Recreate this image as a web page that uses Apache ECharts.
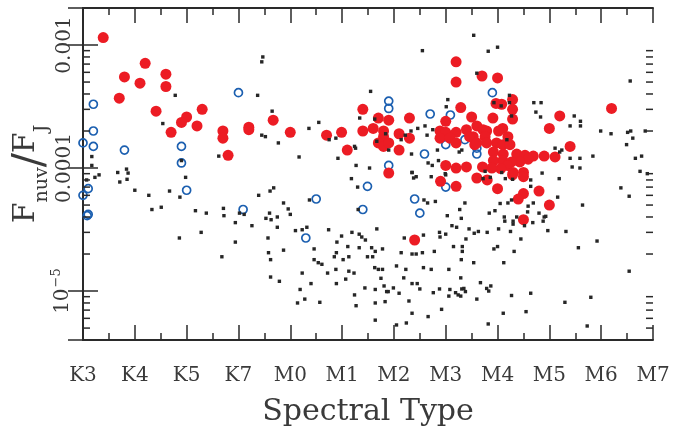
<!DOCTYPE html>
<html>
<head>
<meta charset="utf-8">
<script src="https://cdn.jsdelivr.net/npm/echarts@6/dist/echarts.min.js"></script>
<style>
  html, body { margin: 0; padding: 0; background: #fff; }
</style>
</head>
<body>
<div id="myChart" style="width: 685px;height: 429px"></div>
<script>
// spectral type index: 0 = K3 ... 11 = M7
let spectralLabels = ['K3', 'K4', 'K5', 'K7', 'M0', 'M1', 'M2', 'M3', 'M4', 'M5', 'M6', 'M7']

// y ticks (log axis)
let yMajorTicks = [1e-5, 1e-4, 1e-3]
let yMajorLabels = ['10{sup|−5}', '0.0001', '0.001']
let yMinorTicks = [5e-6, 6e-6, 7e-6, 8e-6, 9e-6,
  2e-5, 3e-5, 4e-5, 5e-5, 6e-5, 7e-5, 8e-5, 9e-5,
  2e-4, 3e-4, 4e-4, 5e-4, 6e-4, 7e-4, 8e-4, 9e-4]

// small black squares [spectral type, Fnuv/FJ]
let blackPoints = [
  [0.17,1.24e-4],[0.17,1.05e-4],[0.67,9.2e-5],[0.84,9.8e-5],[0.87,9.1e-5],[0.31,8.8e-5],[0.07,8e-5],[0.23,8.4e-5],
  [0.71,7.7e-5],[0.85,8.1e-5],[1.0,6.6e-5],[1.27,6e-5],[1.33,4.6e-5],[1.51,4.8e-5],[1.67,6.5e-5],[1.87,5.8e-5],
  [1.98,8.4e-5],[1.86,2.7e-5],[2.17,4.5e-5],[2.38,4.3e-5],[2.28,3e-5],[2.68,1.9e-5],[2.71,4.7e-5],[2.72,4.1e-5],
  [2.94,3.6e-5],[2.94,2.5e-5],[3.02,4.3e-5],[3.11,4.2e-5],[3.26,3.4e-5],[3.39,6e-5],[3.61,6.5e-5],[3.68,6.9e-5],
  [3.53,3.9e-5],[3.60,4.3e-5],[3.63,3.8e-5],[3.57,2.7e-5],[3.58,2.05e-5],[3.62,1.8e-5],[3.62,1.3e-5],[3.75,4e-5],
  [3.75,3.3e-5],[3.79,1.2e-5],[3.87,5.2e-5],[3.96,4.65e-5],[4.00,4.2e-5],[4.10,3.1e-5],[3.87,2.15e-5],[4.23,3.15e-5],
  [4.32,3.3e-5],[4.23,1.4e-5],[4.19,1.03e-5],[4.14,8e-6],[4.28,8.6e-6],[4.57,8.1e-6],[4.40,1.15e-5],[4.46,2.2e-5],
  [4.46,1.8e-5],[4.54,1.7e-5],[4.61,1.65e-5],[4.37,5.5e-5],[4.74,3.15e-5],[4.72,1.4e-5],[4.89,1.15e-5],[4.88,1.5e-5],
  [4.85,1.9e-5],[4.89,2.05e-5],[4.90,2.5e-5],[4.99,2.8e-5],[5.02,1.8e-5],[5.07,1.25e-5],[5.11,2.3e-5],[5.13,1.45e-5],
  [5.13,1.9e-5],[5.24,9.3e-6],[5.27,7.6e-6],[5.19,3e-5],[5.30,7e-5],[5.31,4.6e-5],[5.18,8.2e-5],[5.33,2.9e-5],
  [5.38,2.75e-5],[5.45,2.6e-5],[5.67,3.2e-5],[5.33,2.25e-5],[5.57,2.25e-5],[5.64,2.1e-5],[5.78,2.2e-5],[5.49,1.9e-5],
  [5.59,1.9e-5],[5.23,1.4e-5],[5.44,1.06e-5],[5.63,1.55e-5],[5.70,1.5e-5],[5.78,1.5e-5],[5.75,1.27e-5],[5.81,1.1e-5],
  [5.64,1.03e-5],[5.86,9.9e-6],[5.89,9.9e-6],[5.99,1.06e-5],[6.10,9.6e-6],[5.83,8.2e-6],[5.64,8e-6],[5.64,5.8e-6],
  [6.05,1.6e-5],[6.23,1.5e-5],[6.19,1.28e-5],[6.35,1.15e-5],[6.45,1.15e-5],[6.50,1.04e-5],[6.29,8.3e-6],[6.35,6.6e-6],
  [6.05,5.3e-6],[6.24,5.5e-6],[6.66,6.2e-6],[6.92,7.1e-6],[6.57,1.55e-5],[6.72,1.5e-5],[7.06,1.5e-5],[6.76,9.7e-6],
  [6.88,1.04e-5],[7.08,1.03e-5],[7.06,9.1e-6],[7.19,9.7e-6],[7.24,9.3e-6],[7.29,9.1e-6],[7.31,1.04e-5],[7.29,1.28e-5],
  [6.14,2.05e-5],[6.35,2e-5],[6.43,2e-5],[6.55,2.05e-5],[6.78,2.1e-5],[6.20,2.7e-5],[6.57,2.85e-5],[6.88,3e-5],
  [6.89,2.75e-5],[7.00,2.9e-5],[7.15,2.3e-5],[7.32,2.3e-5],[7.32,2.1e-5],[7.30,1.8e-5],[7.03,4.1e-5],[7.12,3.4e-5],
  [7.21,3.3e-5],[7.27,4.6e-5],[7.30,3.9e-5],[6.58,5.5e-5],[6.65,5.2e-5],[6.80,5.35e-5],[6.72,8.5e-5],[6.43,8.5e-5],
  [6.35,9.2e-5],[6.38,8.3e-5],[7.00,8.8e-5],
  [3.47,8e-4],[3.45,7.3e-4],[3.37,3.9e-4],[1.78,3.9e-4],[1.54,2.3e-4],[3.65,2.9e-4],[3.45,1.85e-4],[3.52,1.8e-4],
  [2.62,1.25e-4],[1.90,1.15e-4],[6.55,9e-4],[5.55,4.2e-4],[4.55,2.35e-4],[4.36,2.1e-4],[3.77,1.6e-4],[4.17,1.23e-4],
  [4.92,1.2e-4],[4.75,1.7e-4],[4.88,1.75e-4],[5.24,1.5e-4],[5.26,1.45e-4],[5.34,2.55e-4],[5.63,2.5e-4],[5.27,1.05e-4],
  [5.53,1e-4],[5.67,1.65e-4],[5.84,1.9e-4],[5.90,1.4e-4],[6.14,1.7e-4],[6.22,1.85e-4],[6.33,2e-4],[6.46,2.1e-4],
  [6.60,2.2e-4],[6.75,2.05e-4],[6.64,1.85e-4],[6.34,1.3e-4],[6.66,1.1e-4],[6.74,1.05e-4],[6.86,1.15e-4],[6.35,9.2e-5],
  [6.84,1.4e-4],[7.01,3.15e-4],[7.04,3.6e-4],[7.26,1.35e-4],[7.31,1.4e-4],[6.99,9e-5],[7.54,1.2e-3],[7.82,8.9e-4],
  [8.00,9.6e-4],[7.60,5.9e-4],[8.23,3.9e-4],[8.23,3.4e-4],[7.93,3.4e-4],[8.07,3.2e-4],[8.70,3.4e-4],[8.84,3.4e-4],
  [8.74,2.85e-4],[8.83,2.6e-4],[8.27,2.65e-4],[9.48,2.65e-4],[9.60,2.4e-4],[9.60,2.2e-4],[9.40,2.2e-4],[9.99,2e-4],
  [10.19,1.9e-4],[10.56,5.1e-4],[10.51,1.95e-4],[10.57,2e-4],[10.85,2e-4],[10.61,1.75e-4],[10.49,1.55e-4],[10.78,1.25e-4],
  [10.66,1.2e-4],[9.84,1.25e-4],[9.11,1.45e-4],[9.20,1.35e-4],[9.24,1.4e-4],[9.40,1.2e-4],[9.59,1.2e-4],[9.59,1e-4],
  [9.44,1.02e-4],[8.86,9.1e-5],[10.75,9.4e-5],[10.89,9e-5],[8.18,1.7e-4],[7.76,9.4e-5],[8.08,9.2e-5],
  [9.19,8.2e-5],[8.15,8.2e-5],[8.29,8.1e-5],[7.86,8.4e-5],[8.64,8e-5],[8.64,7.1e-5],[7.72,8.2e-5],[7.37,5.2e-5],
  [8.05,5.15e-5],[8.20,5.2e-5],[8.27,5.5e-5],[8.69,5.2e-5],[8.59,4.9e-5],[8.58,4.4e-5],[7.84,4.3e-5],[7.95,4.5e-5],
  [9.16,5.8e-5],[9.64,5e-5],[10.38,6.9e-5],[10.54,5.9e-5],[8.80,4.3e-5],[8.90,4e-5],[8.93,4.05e-5],[8.88,3.7e-5],
  [8.68,3.6e-5],[8.30,3.7e-5],[8.30,3.5e-5],[8.37,4e-5],[8.13,4e-5],[8.14,3.7e-5],[8.52,3.4e-5],[8.02,3.2e-5],
  [8.25,3.05e-5],[8.97,3.1e-5],[9.32,3.05e-5],[7.80,3e-5],[7.63,3.05e-5],[7.55,2.95e-5],[7.45,3.2e-5],[7.39,2.65e-5],
  [8.45,2.65e-5],[7.93,2.2e-5],[8.00,2.3e-5],[8.32,2.1e-5],[9.92,2.55e-5],[9.56,2.25e-5],[7.54,1.7e-5],[8.12,1.7e-5],
  [10.54,1.45e-5],[7.67,1.17e-5],[7.79,1.05e-5],[7.87,1.1e-5],[7.83,1e-5],[7.35,1.05e-5],[7.38,9.9e-6],[7.60,8.6e-6],
  [8.27,9.2e-6],[8.64,9.6e-6],[8.11,6.6e-6],[8.55,6.8e-6],[7.82,5.4e-6],[9.30,8.1e-6],[9.80,8.9e-6],[9.73,5.2e-6]
]

// red filled circles
let redPoints = [
  [0.39,1.15e-3],[1.20,7.1e-4],[0.80,5.5e-4],[1.10,4.9e-4],[1.60,5.8e-4],[1.60,4.6e-4],[0.70,3.7e-4],[1.41,2.9e-4],
  [2.00,2.6e-4],[1.90,2.35e-4],[2.30,3e-4],[2.20,2.2e-4],[1.70,1.95e-4],[2.70,2e-4],[2.70,1.75e-4],[2.80,1.27e-4],
  [3.20,2.15e-4],[3.20,2.05e-4],[3.67,2.45e-4],[4.00,1.95e-4],[4.70,1.85e-4],[4.99,1.95e-4],[5.10,1.4e-4],[5.40,3e-4],
  [5.40,2e-4],[5.60,2.1e-4],[5.70,2.55e-4],[5.90,2.45e-4],[5.80,2e-4],[5.80,1.8e-4],[5.70,1.6e-4],[5.80,1.5e-4],
  [5.90,1.6e-4],[6.10,1.9e-4],[6.10,1.4e-4],[6.30,2.55e-4],[6.30,1.75e-4],[5.90,9.1e-5],[7.20,7.3e-4],[7.20,5e-4],
  [7.29,3.1e-4],[7.00,2.4e-4],[6.89,2e-4],[7.00,1.95e-4],[7.20,1.95e-4],[6.89,1.75e-4],[7.08,1.75e-4],[7.20,1.6e-4],
  [7.00,1.05e-4],[7.20,1e-4],[7.70,5.6e-4],[8.00,5.4e-4],[8.29,3.6e-4],[8.08,3.3e-4],[7.97,3.35e-4],[8.29,3e-4],
  [8.29,2.5e-4],[7.50,2.6e-4],[7.91,2.55e-4],[9.20,2.65e-4],[10.20,3.05e-4],[9.00,2.1e-4],[8.10,2.1e-4],[8.02,2e-4],
  [7.60,2.2e-4],[7.72,2.05e-4],[7.79,2e-4],[7.40,2.05e-4],[7.53,1.8e-4],[7.76,1.8e-4],[7.56,1.55e-4],[8.20,1.8e-4],
  [7.98,1.6e-4],[8.10,1.55e-4],[8.24,1.55e-4],[9.40,1.5e-4],[7.92,1.35e-4],[8.11,1.3e-4],[8.37,1.3e-4],[8.53,1.27e-4],
  [8.69,1.25e-4],[8.90,1.25e-4],[9.11,1.23e-4],[8.59,1.18e-4],[8.43,1.12e-4],[8.27,1.12e-4],[8.10,1.15e-4],[7.92,1.15e-4],
  [8.19,1.05e-4],[8.06,9.9e-5],[7.89,1e-4],[7.71,1.02e-4],[7.40,1.02e-4],[8.30,9.2e-5],[8.50,9.2e-5],[7.60,8.3e-5],
  [7.80,8e-5],[8.00,6.8e-5],[8.29,8.8e-5],[8.50,8.5e-5],[8.50,6.2e-5],[8.80,6.5e-5],[8.40,5.6e-5],[9.00,5e-5],
  [8.50,3.8e-5],[6.40,2.6e-5],[6.90,7.8e-5],[7.20,7.1e-5],[7.46,1.8e-4],[7.60,1.6e-4],[7.79,1.6e-4]
]

// blue open circles
let bluePoints = [
  [0.20,3.3e-4],[0.20,2e-4],[0.00,1.6e-4],[0.20,1.5e-4],[0.80,1.4e-4],[3.00,4.1e-4],[1.90,1.5e-4],[1.90,1.1e-4],
  [0.10,6.8e-5],[0.00,6e-5],[0.10,4.2e-5],[0.08,4.1e-5],[2.00,6.6e-5],[3.09,4.6e-5],[4.50,5.6e-5],[4.30,2.7e-5],
  [5.49,7.1e-5],[5.40,4.6e-5],[6.40,5.6e-5],[6.50,4.3e-5],[7.00,7e-5],[5.90,3.5e-4],[5.90,3.05e-4],[6.70,2.75e-4],
  [7.09,2.7e-4],[5.90,1.05e-4],[6.59,1.3e-4],[7.00,1.55e-4],[7.90,4.1e-4],[7.37,1.7e-4],[7.60,1.45e-4],[7.60,1.3e-4]
]

let axisColor = '#2a2a2a'
let textColor = '#3a3a3a'
let fontName = 'DejaVu Serif'

function yLabel(value) {
  for (let i = 0; i < yMajorTicks.length; i++) {
    if (Math.abs(Math.log10(value) - Math.log10(yMajorTicks[i])) < 0.01) {
      return yMajorLabels[i]
    }
  }
  return ''
}

let xAxisBase = {
  type: 'value',
  min: 0,
  max: 11,
  interval: 1,
  axisLine: { show: true, lineStyle: { color: axisColor, width: 2 } },
  axisTick: { show: true, inside: true, length: 15, lineStyle: { color: axisColor, width: 1.5 } },
  minorTick: { show: true, splitNumber: 2, length: 7, lineStyle: { color: axisColor, width: 1.5 } },
  splitLine: { show: false }
}

let yAxisBase = {
  type: 'log',
  logBase: 10,
  min: 4e-6,
  max: 2e-3,
  axisLine: { show: true, lineStyle: { color: axisColor, width: 2 } },
  axisTick: { show: true, inside: true, length: 15, lineStyle: { color: axisColor, width: 1.5 } },
  splitLine: { show: false }
}

let option = {
  animation: false,
  backgroundColor: '#fff',
  grid: { left: 83, right: 32, top: 8, bottom: 89, containLabel: false, outerBoundsMode: 'none' },
  xAxis: [
    Object.assign({}, xAxisBase, {
      position: 'bottom',
      name: 'Spectral Type',
      nameLocation: 'middle',
      nameGap: 57,
      nameMoveOverlap: false,
      nameTextStyle: { fontFamily: fontName, fontSize: 30, color: textColor },
      axisLabel: {
        margin: 26,
        fontFamily: fontName,
        fontSize: 20,
        color: textColor,
        formatter: function (value) {
          return spectralLabels[Math.round(value)] || ''
        }
      }
    }),
    Object.assign({}, xAxisBase, { position: 'top', axisLabel: { show: false } })
  ],
  yAxis: [
    Object.assign({}, yAxisBase, {
      position: 'left',
      name: '{f|F}{s|nuv}{sl|/}{f|F}{s|J}',
      nameLocation: 'middle',
      nameRotate: 90,
      nameGap: 31,
      nameMoveOverlap: false,
      nameTextStyle: {
        color: textColor,
        rich: {
          f: { fontFamily: fontName, fontSize: 30, lineHeight: 30, padding: [0, 0, 10, 0], color: textColor },
          s: { fontFamily: fontName, fontSize: 19, lineHeight: 19, verticalAlign: 'bottom', color: textColor },
          sl: { fontFamily: fontName, fontSize: 42, lineHeight: 42, color: textColor }
        }
      },
      axisLabel: {
        rotate: 90,
        margin: 8,
        showMinLabel: false,
        showMaxLabel: false,
        fontFamily: fontName,
        fontSize: 20,
        color: textColor,
        formatter: yLabel,
        rich: {
          sup: { fontFamily: fontName, fontSize: 13, padding: [0, 0, 12, 1], color: textColor }
        }
      }
    }),
    Object.assign({}, yAxisBase, { position: 'right', axisLabel: { show: false } })
  ],
  series: [
    {
      name: 'blue',
      type: 'scatter',
      data: bluePoints,
      symbol: 'circle',
      symbolSize: 8,
      itemStyle: { color: 'rgba(0,0,0,0)', borderColor: '#1b5fb0', borderWidth: 1.7, opacity: 1 },
      z: 2
    },
    {
      name: 'red',
      type: 'scatter',
      data: redPoints,
      symbol: 'circle',
      symbolSize: 11,
      itemStyle: { color: '#ec1c24', opacity: 1 },
      z: 3
    },
    {
      name: 'black',
      type: 'scatter',
      data: blackPoints,
      symbol: 'rect',
      symbolSize: 3.4,
      itemStyle: { color: '#262626', opacity: 1 },
      z: 4
    },
    {
      // minor ticks of the log axes, left and right
      name: 'yMinor',
      type: 'custom',
      silent: true,
      clip: false,
      data: yMinorTicks.map(function (v) { return [0, v] }),
      renderItem: function (params, api) {
        let pt = api.coord([0, api.value(1)])
        let cs = params.coordSys
        let st = { stroke: axisColor, lineWidth: 1.5 }
        return {
          type: 'group',
          children: [
            { type: 'line', shape: { x1: cs.x, y1: pt[1], x2: cs.x + 7, y2: pt[1] }, style: st },
            { type: 'line', shape: { x1: cs.x + cs.width, y1: pt[1], x2: cs.x + cs.width - 7, y2: pt[1] }, style: st }
          ]
        }
      },
      z: 5
    }
  ]
}

let myChart = echarts.init(document.getElementById('myChart'))
myChart.setOption(option)
</script>
</body>
</html>
